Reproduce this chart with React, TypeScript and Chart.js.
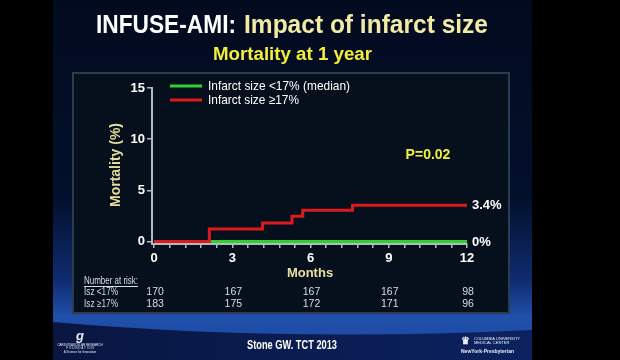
import React, { useEffect, useRef } from "react";
import { Chart, registerables } from "chart.js";

Chart.register(...registerables);

// ---- data ----
const seriesLabels = ["Infarct size <17% (median)", "Infarct size \u226517%"];
const monthsLow = [0, 12];
const mortalityLow = [0, 0];
const monthsHigh = [0, 2.12, 4.16, 5.29, 5.7, 7.61, 12];
const mortalityHigh = [0, 1.22, 1.8, 2.46, 3.05, 3.55, 3.55];
const endLabels = ["0%", "3.4%"];
const xTickValues = [0, 3, 6, 9, 12];
const yTickValues = [0, 5, 10, 15];
const riskMonths = [0, 3, 6, 9, 12];
const riskLabels = ["Isz <17%", "Isz \u226517%"];
const riskLow = [170, 167, 167, 167, 98];
const riskHigh = [183, 175, 172, 171, 96];
const pValue = "P=0.02";

const FONT = "'Liberation Sans', Arial, sans-serif";

function fitText(ctx: CanvasRenderingContext2D, text: string, x: number, y: number, w: number) {
  const m = ctx.measureText(text).width;
  ctx.save();
  ctx.translate(x, y);
  ctx.scale(w / m, 1);
  ctx.textAlign = "left";
  ctx.fillText(text, 0, 0);
  ctx.restore();
}

const decorPlugin = {
  id: "decor",
  beforeDraw(chart: any) {
    const ctx = chart.ctx as CanvasRenderingContext2D;
    ctx.save();
    ctx.fillStyle = "#000";
    ctx.fillRect(0, 0, 620, 360);
    const g = ctx.createLinearGradient(0, 0, 0, 360);
    g.addColorStop(0, "#020a1e");
    g.addColorStop(0.55, "#03102c");
    g.addColorStop(0.78, "#0f2c70");
    g.addColorStop(0.88, "#2050aa");
    g.addColorStop(1, "#1a46a0");
    ctx.fillStyle = g;
    ctx.fillRect(53, 0, 479, 360);
    // dark bottom swoosh
    const g2 = ctx.createLinearGradient(53, 0, 532, 0);
    g2.addColorStop(0, "#081640");
    g2.addColorStop(1, "#0c2260");
    ctx.beginPath();
    ctx.moveTo(53, 322);
    ctx.quadraticCurveTo(280, 342, 532, 330);
    ctx.lineTo(532, 360);
    ctx.lineTo(53, 360);
    ctx.closePath();
    ctx.fillStyle = g2;
    ctx.fill();
    // panel
    ctx.fillStyle = "#06101d";
    ctx.fillRect(73, 73, 436, 240);
    ctx.strokeStyle = "#2c3c50";
    ctx.lineWidth = 2;
    ctx.strokeRect(73, 73, 436, 240);
    // title
    ctx.textBaseline = "middle";
    ctx.font = `bold 25px ${FONT}`;
    ctx.fillStyle = "#ffffff";
    fitText(ctx, "INFUSE-AMI:", 96, 26, 140);
    ctx.fillStyle = "#f1eba4";
    fitText(ctx, "Impact of infarct size", 244, 26, 244);
    ctx.font = `bold 18px ${FONT}`;
    ctx.fillStyle = "#f2ee3a";
    fitText(ctx, "Mortality at 1 year", 213, 55, 159);
    // footer
    ctx.font = `bold 12px ${FONT}`;
    ctx.fillStyle = "#ffffff";
    fitText(ctx, "Stone GW. TCT 2013", 247, 346, 90);
    // logos (text approximations)
    ctx.fillStyle = "#e8eefc";
    ctx.font = `bold italic 13px ${FONT}`;
    ctx.textAlign = "center";
    ctx.fillText("\u0261", 80, 336);
    ctx.font = `3px ${FONT}`;
    ctx.fillText("CARDIOVASCULAR RESEARCH", 80, 345);
    ctx.fillText("F O U N D A T I O N", 80, 348.5);
    ctx.fillText("A Science for Innovation", 80, 352);
    ctx.textAlign = "left";
    ctx.font = `4px ${FONT}`;
    ctx.fillText("COLUMBIA UNIVERSITY", 474, 339);
    ctx.fillText("MEDICAL CENTER", 474, 343);
    ctx.font = `bold 5px ${FONT}`;
    ctx.fillText("NewYork-Presbyterian", 461, 352);
    ctx.font = `bold 10px ${FONT}`;
    ctx.fillText("\u265B", 461, 341);
    ctx.restore();
  },
  afterDraw(chart: any) {
    const ctx = chart.ctx as CanvasRenderingContext2D;
    const xs = chart.scales.x;
    const ys = chart.scales.y;
    ctx.save();
    // y axis title
    ctx.translate(116, 165);
    ctx.rotate(-Math.PI / 2);
    ctx.font = `bold 14px ${FONT}`;
    ctx.fillStyle = "#e6dc9c";
    ctx.textAlign = "center";
    ctx.textBaseline = "middle";
    ctx.fillText("Mortality (%)", 0, 0);
    ctx.restore();

    ctx.save();
    ctx.textBaseline = "middle";
    // x axis title
    ctx.font = `bold 13px ${FONT}`;
    ctx.fillStyle = "#e8e0a0";
    ctx.textAlign = "center";
    ctx.fillText("Months", 310, 273);
    // legend
    const ds = chart.data.datasets;
    const legendY = [86, 100];
    const legendW = [142, 91];
    [0, 1].forEach((i) => {
      ctx.strokeStyle = ds[i].borderColor;
      ctx.lineWidth = 3;
      ctx.beginPath();
      ctx.moveTo(170, legendY[i]);
      ctx.lineTo(202, legendY[i]);
      ctx.stroke();
      ctx.fillStyle = "#ffffff";
      ctx.font = `13px ${FONT}`;
      fitText(ctx, seriesLabels[i], 208, legendY[i] + 0.5, legendW[i]);
    });
    // P value
    ctx.font = `bold 14px ${FONT}`;
    ctx.fillStyle = "#f0ee40";
    ctx.textAlign = "center";
    ctx.fillText(pValue, 428, 155);
    // end labels
    ctx.font = `bold 13px ${FONT}`;
    ctx.fillStyle = "#ffffff";
    ctx.textAlign = "left";
    ctx.fillText(endLabels[0], xs.getPixelForValue(12) + 5, ys.getPixelForValue(mortalityLow[mortalityLow.length - 1]) + 1);
    ctx.fillText(endLabels[1], xs.getPixelForValue(12) + 5, ys.getPixelForValue(mortalityHigh[mortalityHigh.length - 1]));
    // number at risk
    ctx.font = `11px ${FONT}`;
    ctx.fillStyle = "#d8dce4";
    fitText(ctx, "Number at risk:", 84, 280.5, 54);
    ctx.strokeStyle = "#d8dce4";
    ctx.lineWidth = 1;
    ctx.beginPath();
    ctx.moveTo(84, 286.5);
    ctx.lineTo(138, 286.5);
    ctx.stroke();
    const rowY = [292.5, 304.5];
    ctx.font = `10.5px ${FONT}`;
    fitText(ctx, riskLabels[0], 84, rowY[0], 34);
    fitText(ctx, riskLabels[1], 84, rowY[1], 34);
    ctx.textAlign = "center";
    riskMonths.forEach((m, i) => {
      const px = xs.getPixelForValue(m) + 1;
      ctx.fillText(String(riskLow[i]), px, rowY[0]);
      ctx.fillText(String(riskHigh[i]), px, rowY[1]);
    });
    ctx.restore();
  },
};

export default function App() {
  const ref = useRef<HTMLCanvasElement | null>(null);
  useEffect(() => {
    if (!ref.current) return;
    const minor: number[] = [];
    for (let i = 0; i <= 20; i++) minor.push(Math.round(i * 0.6 * 100) / 100);
    const chart = new Chart(ref.current, {
      type: "line",
      data: {
        datasets: [
          {
            label: seriesLabels[0],
            data: monthsLow.map((m, i) => ({ x: m, y: mortalityLow[i] })),
            borderColor: "#2fd02f",
            borderWidth: 3,
            pointRadius: 0,
            stepped: true,
            order: 1,
          },
          {
            label: seriesLabels[1],
            data: monthsHigh.map((m, i) => ({ x: m, y: mortalityHigh[i] })),
            borderColor: "#dc1a1e",
            borderWidth: 3,
            pointRadius: 0,
            stepped: true,
            order: 0,
          },
        ],
      },
      options: {
        animation: false,
        responsive: false,
        devicePixelRatio: 1,
        layout: { padding: { left: 0, top: 88, right: 153, bottom: 0 } },
        plugins: { legend: { display: false }, title: { display: false }, tooltip: { enabled: false } },
        scales: {
          x: {
            type: "linear",
            min: -0.08,
            max: 12,
            afterBuildTicks: (s: any) => {
              s.ticks = minor.map((v) => ({ value: v }));
            },
            afterFit: (s: any) => {
              s.height = 116;
            },
            ticks: {
              autoSkip: false,
              maxRotation: 0,
              padding: 3,
              color: "#ffffff",
              font: { family: FONT, size: 13, weight: "bold" },
              callback: (v: any) => {
                const n = Number(v);
                return xTickValues.some((t) => Math.abs(t - n) < 1e-6) ? String(Math.round(n)) : "";
              },
            },
            grid: { drawOnChartArea: false, drawTicks: true, tickLength: 4, color: "#b4b8c0", lineWidth: 1.5 },
            border: { display: true, color: "#b4b8c0", width: 2 },
          },
          y: {
            type: "linear",
            min: -0.25,
            max: 15,
            afterBuildTicks: (s: any) => {
              s.ticks = yTickValues.map((v) => ({ value: v }));
            },
            afterFit: (s: any) => {
              s.width = 152;
            },
            ticks: {
              padding: 2,
              color: "#ffffff",
              font: { family: FONT, size: 13, weight: "bold" },
              callback: (v: any) => String(v),
            },
            grid: { drawOnChartArea: false, drawTicks: true, tickLength: 5, color: "#b4b8c0", lineWidth: 1.5 },
            border: { display: true, color: "#b4b8c0", width: 2 },
          },
        },
      },
      plugins: [decorPlugin],
    } as any);
    return () => chart.destroy();
  }, []);
  return (
    <canvas
      ref={ref}
      width={620}
      height={360}
      style={{ position: "fixed", left: 0, top: 0, width: 620, height: 360 }}
    />
  );
}
